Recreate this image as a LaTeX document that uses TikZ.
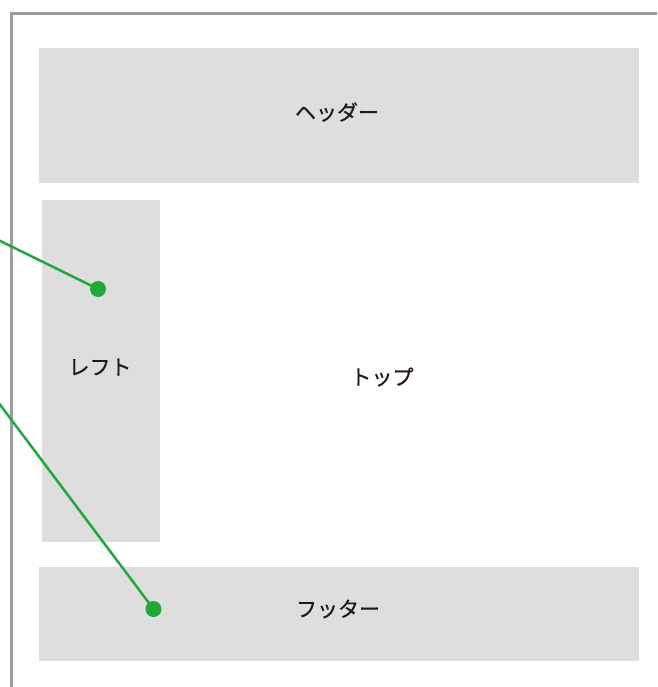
\documentclass[tikz,border=0pt]{standalone}
\usepackage{fontspec}
\newfontfamily\jpfont[FakeBold=0.6]{Noto Sans CJK JP}
\usetikzlibrary{positioning}
\definecolor{framegray}{HTML}{9C9C9C}
\definecolor{boxgray}{HTML}{DEDEDE}
\definecolor{pingreen}{HTML}{22A83A}
\definecolor{inkblack}{HTML}{231815}

\begin{document}
\begin{tikzpicture}[x=1pt,y=-1pt,
		every node/.style={font=\jpfont\fontsize{21}{24}\selectfont,text=inkblack},
		area/.style={fill=boxgray,inner sep=0pt},
		pindot/.style={circle,fill=pingreen,minimum size=16pt,inner sep=0pt},
		lead/.style={draw=pingreen,line width=2.5pt}]
		\useasboundingbox (0,0) rectangle (657,687);
		\clip (0,0) rectangle (657,687);
		
		% outer frame
		\draw[framegray,line width=3pt] (11.5,700) |- (680,13.5);
		
		\node[area,minimum width=600,minimum height=135] (header) at (339,115.5) {};
		\node (headertext) at (337,112) {ヘッダー};
		\node[area,minimum width=118,minimum height=342] (left) at (101,371) {};
		\node (lefttext) at (100,367) {レフト};
		\node (top) at (382,377) {トップ};
		\node[area,minimum width=600,minimum height=94] (footer) at (339,614) {};
		\node (footertext) at (338,609) {フッター};
		
		% pins
		\node[pindot] (pinleft) at (98,289) {};
		\node[pindot] (pinfooter) at (153.5,609) {};
		\coordinate (fromleft) at (-20,231);
		\coordinate (fromfooter) at (-20,378);
		\draw[lead] (fromleft) -- (pinleft.center);
		\draw[lead] (fromfooter) -- (pinfooter.center);
	\end{tikzpicture}
\end{document}
